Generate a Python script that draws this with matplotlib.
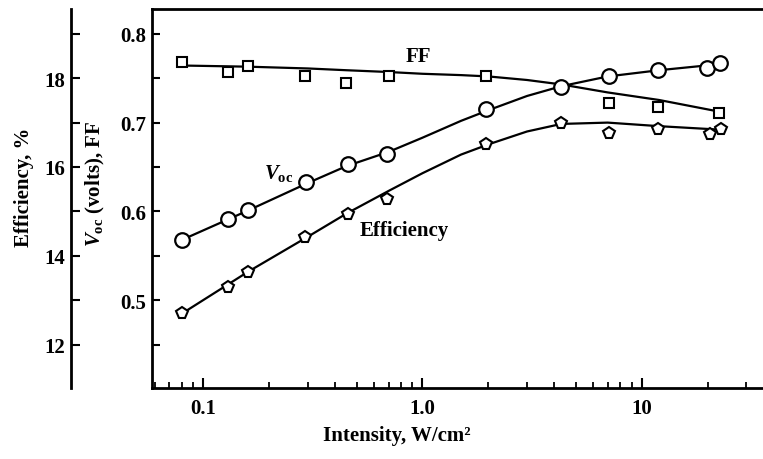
import matplotlib
matplotlib.use("Agg")
import matplotlib.pyplot as plt
from matplotlib.ticker import FixedLocator, NullFormatter

plt.rcParams["font.family"] = ["Liberation Serif", "DejaVu Serif"]
plt.rcParams["font.weight"] = "bold"
plt.rcParams["mathtext.fontset"] = "custom"
plt.rcParams["mathtext.rm"] = "Liberation Serif:bold"
plt.rcParams["mathtext.it"] = "Liberation Serif:italic:bold"

# measured points, intensity in W/cm^2
ff_x = [0.08, 0.13, 0.16, 0.29, 0.45, 0.70, 1.95, 7.1, 11.9, 22.5]
ff_y = [0.7685, 0.7568, 0.7636, 0.753, 0.745, 0.753, 0.752, 0.722, 0.718, 0.711]

voc_x = [0.08, 0.13, 0.16, 0.295, 0.455, 0.69, 1.95, 4.3, 7.1, 11.9, 19.9, 22.7]
voc_y = [0.568, 0.591, 0.602, 0.633, 0.653, 0.665, 0.715, 0.740, 0.753, 0.759, 0.761, 0.767]

eff_x = [0.08, 0.13, 0.16, 0.29, 0.455, 0.69, 1.95, 4.3, 7.1, 11.9, 20.5, 23.0]
eff_y = [12.70, 13.29, 13.64, 14.43, 14.95, 15.29, 16.51, 16.98, 16.77, 16.85, 16.75, 16.85]

# smooth fitted curves through the data
fit_x = [0.08, 0.16, 0.3, 0.45, 0.7, 1.0, 1.5, 2.0, 3.0, 4.3, 7.0, 12.0, 23.0]
ff_fit = [0.7643, 0.763, 0.761, 0.759, 0.757, 0.755, 0.7535, 0.752, 0.748, 0.743, 0.734, 0.7255, 0.712]
voc_fit = [0.568, 0.601, 0.632, 0.651, 0.667, 0.683, 0.702, 0.714, 0.730, 0.741, 0.752, 0.759, 0.766]
eff_fit = [12.70, 13.64, 14.43, 14.95, 15.46, 15.86, 16.28, 16.51, 16.80, 16.97, 17.00, 16.92, 16.84]

x_ticks = [0.1, 1.0, 10]
x_ticklabels = ["0.1", "1.0", "10"]
v_ticks = [0.5, 0.6, 0.7, 0.8]
v_minor = [0.45, 0.55, 0.65, 0.75]
e_ticks = [12, 14, 16, 18]
e_minor = [13, 15, 17, 19]

FS = 15
LW = 1.6

fig = plt.figure(figsize=(7.63, 4.60), dpi=100)
ax = fig.add_axes([0.1992, 0.1543, 0.8008, 0.824])

ax.set_xscale("log")
ax.set_xlim(0.0583, 35.8)
ax.set_ylim(0.401, 0.828)

# efficiency gets its own scale, with a spine further left
eff_ax = ax.twinx()
eff_ax.set_ylim(11.02, 19.56)
eff_ax.yaxis.tick_left()
eff_ax.spines["left"].set_position(("outward", 58.3))
for side in ["right", "top", "bottom"]:
    eff_ax.spines[side].set_visible(False)
eff_ax.spines["left"].set_linewidth(2.0)

for side in ["left", "top", "bottom"]:
    ax.spines[side].set_linewidth(2.0)
ax.spines["right"].set_visible(False)

# curves and markers
ax.plot(fit_x, ff_fit, color="black", lw=LW, zorder=2)
ax.plot(fit_x, voc_fit, color="black", lw=LW, zorder=2)
eff_ax.plot(fit_x, eff_fit, color="black", lw=LW, zorder=2)

ax.plot(ff_x, ff_y, ls="none", marker="s", ms=6.5, mfc="white", mec="black", mew=1.5, zorder=3)
ax.plot(voc_x, voc_y, ls="none", marker="o", ms=10.5, mfc="white", mec="black", mew=1.6, zorder=4)
eff_ax.plot(eff_x, eff_y, ls="none", marker="p", ms=8.5, mfc="white", mec="black", mew=1.5, zorder=3)

# ticks
ax.set_xticks(x_ticks)
ax.set_xticklabels(x_ticklabels, fontsize=FS)
ax.xaxis.set_minor_formatter(NullFormatter())
ax.tick_params(axis="x", which="major", direction="in", length=7, width=1.5, pad=7, top=False)
ax.tick_params(axis="x", which="minor", direction="in", length=4.5, width=1.3, top=False)

ax.set_yticks(v_ticks)
ax.set_yticklabels([f"{v:.1f}" for v in v_ticks], fontsize=FS)
ax.yaxis.set_minor_locator(FixedLocator(v_minor))
ax.tick_params(axis="y", which="both", direction="in", length=5.5, width=1.5, pad=4, right=False)

eff_ax.set_yticks(e_ticks)
eff_ax.set_yticklabels([str(v) for v in e_ticks], fontsize=FS)
eff_ax.yaxis.set_minor_locator(FixedLocator(e_minor))
eff_ax.tick_params(axis="y", which="both", direction="in", length=6.5, width=1.5, pad=4,
                   left=True, right=False, labelleft=True, labelright=False)

# curve labels
ax.text(418 / 763, 1 - 57 / 460, "FF", transform=fig.transFigure, fontsize=FS,
        ha="center", va="center")
ax.text(279 / 763, 1 - 174 / 460, r"$V_{\mathrm{oc}}$", transform=fig.transFigure,
        fontsize=FS, ha="center", va="center")
ax.text(404 / 763, 1 - 231 / 460, "Efficiency", transform=fig.transFigure, fontsize=FS,
        ha="center", va="center")

# axis titles
fig.text(397 / 763, 1 - 436 / 460, "Intensity, W/cm²", fontsize=FS, ha="center", va="center")
fig.text(95 / 763, 1 - 184 / 460, r"$V_{\mathrm{oc}}$ (volts), FF", fontsize=FS,
         rotation=90, ha="center", va="center")
fig.text(24 / 763, 1 - 187 / 460, "Efficiency, %", fontsize=FS, rotation=90,
         ha="center", va="center")

fig.savefig("out.png", dpi=100)
